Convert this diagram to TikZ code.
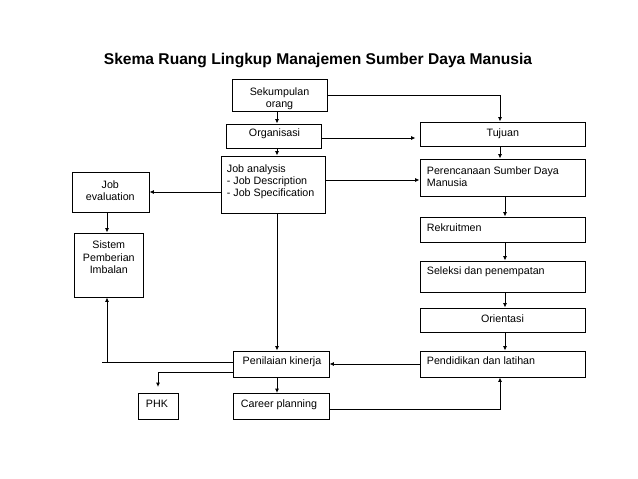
\documentclass[tikz,border=0pt]{standalone}
\usepackage{fontspec}
\setmainfont{Liberation Sans}
\usetikzlibrary{arrows.meta,calc}
\begin{document}
\begin{tikzpicture}[x=1pt,y=-1pt,
  box/.style={draw,line width=0.9pt,inner sep=0pt},
  txt/.style={inner sep=0pt,font=\fontsize{10.7}{12}\selectfont,align=left,anchor=north west},
  ctxt/.style={inner sep=0pt,font=\fontsize{10.7}{12}\selectfont,align=center,anchor=north},
  arr/.style={line width=0.9pt,-{Latex[length=4.5pt,width=4pt]}},
  ln/.style={line width=0.9pt}]
\useasboundingbox (0,0) rectangle (638,479);
\node[font=\bfseries\fontsize{15.6}{19}\selectfont,inner sep=0pt,anchor=north] (title) at (318,52.6) {Skema Ruang Lingkup Manajemen Sumber Daya Manusia};
% left / middle column
\node[box,minimum width=95,minimum height=32] (sek) at (279.5,95) {};
\node[ctxt] (sekT) at (279.5,87.3) {Sekumpulan\\orang};
\node[box,minimum width=95,minimum height=24] (org) at (273.5,136) {};
\node[ctxt] (orgT) at (274.5,128.5) {Organisasi};
\node[box,minimum width=104,minimum height=57] (job) at (273,184.5) {};
\node[txt] (jobT) at (226.7,164.3) {Job analysis\\- Job Description\\- Job Specification};
\node[box,minimum width=77,minimum height=40] (jev) at (110.5,192) {};
\node[ctxt] (jevT) at (110.3,180.7) {Job\\evaluation};
\node[box,minimum width=69,minimum height=64] (sis) at (108.7,265) {};
\node[ctxt,font=\fontsize{10.7}{12.5}\selectfont] (sisT) at (108.8,240.7) {Sistem\\Pemberian\\Imbalan};
\node[box,minimum width=96,minimum height=26] (pnl) at (281,364) {};
\node[ctxt] (pnlT) at (282,357) {Penilaian kinerja};
\node[box,minimum width=40,minimum height=26] (phk) at (158,406.5) {};
\node[txt] (phkT) at (145.7,400) {PHK};
\node[box,minimum width=96,minimum height=26] (car) at (281,406.5) {};
\node[txt] (carT) at (240.7,400) {Career planning};
% right column
\node[box,minimum width=165,minimum height=24] (tuj) at (502.5,134) {};
\node[ctxt] (tujT) at (502.8,128.3) {Tujuan};
\node[box,minimum width=165,minimum height=37] (per) at (502.5,177.5) {};
\node[txt] (perT) at (426.7,166.5) {Perencanaan Sumber Daya\\Manusia};
\node[box,minimum width=165,minimum height=25] (rek) at (502.5,229.5) {};
\node[txt] (rekT) at (426.7,224) {Rekruitmen};
\node[box,minimum width=165,minimum height=31] (sel) at (502.5,276.5) {};
\node[txt] (selT) at (426.7,266.7) {Seleksi dan penempatan};
\node[box,minimum width=165,minimum height=24] (ori) at (502.5,320) {};
\node[ctxt] (oriT) at (502.5,314.3) {Orientasi};
\node[box,minimum width=165,minimum height=26] (pen) at (502.5,364) {};
\node[txt] (penT) at (426.7,356.7) {Pendidikan dan latihan};
% helper coordinates
\coordinate (spine) at (277,0);
\coordinate (lcol) at (107,0);
\coordinate (rcol) at (505,0);
\coordinate (tcol) at (500,0);
\coordinate (stub) at (102,362);
% connectors
\draw[ln] (sek.east) -- (sek.east -| tcol);
\draw[arr] (sek.east -| tcol) -- (tuj.north -| tcol);
\draw[arr] (sek.south -| spine) -- (org.north -| spine);
\draw[arr] (org.south -| spine) -- (job.north -| spine);
\draw[arr,shorten >=4pt] ($(org.east)+(0,2)$) -- ($(tuj.west)+(0,4)$);
\draw[arr] (job.east |- 0,180) -- (per.west |- 0,180);
\draw[arr] (job.west |- jev.east) -- (jev.east);
\draw[arr] (jev.south -| lcol) -- (sis.north -| lcol);
\draw[arr] (job.south -| spine) -- (pnl.north -| spine);
\draw[arr] (tuj.south -| tcol) -- (per.north -| tcol);
\draw[arr] (per.south -| rcol) -- (rek.north -| rcol);
\draw[arr] (rek.south -| rcol) -- (sel.north -| rcol);
\draw[arr] (sel.south -| rcol) -- (ori.north -| rcol);
\draw[arr] (ori.south -| rcol) -- (pen.north -| rcol);
\draw[arr] (pen.west) -- (pnl.east);
\draw[ln] (pnl.west |- stub) -- (stub);
\draw[arr] (stub -| lcol) -- (sis.south -| lcol);
\draw[arr,shorten >=6pt] (pnl.west |- 0,372) -| (phk.north);
\draw[arr] (pnl.south -| spine) -- (car.north -| spine);
\draw[arr] (car.east |- 0,409) -| (pen.south -| tcol);
\end{tikzpicture}
\end{document}
